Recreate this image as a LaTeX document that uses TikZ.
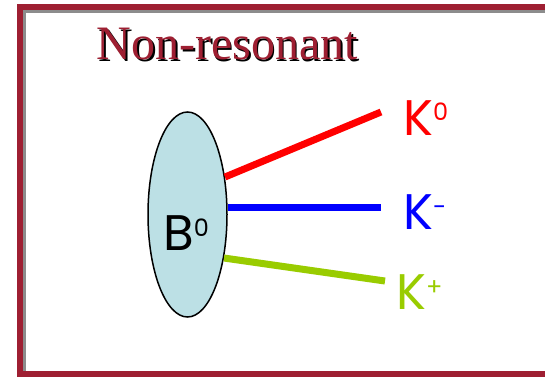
\documentclass[tikz,border=0pt]{standalone}
\usepackage{fontspec}
\setmainfont{Liberation Serif}
\newfontfamily\comicfont{Poppins}
\usetikzlibrary{shapes.geometric}
\definecolor{framered}{HTML}{9E1F32}
\definecolor{framegray}{HTML}{8C8C8C}
\definecolor{eggfill}{HTML}{BCE0E5}
\definecolor{kred}{HTML}{FF0000}
\definecolor{kblue}{HTML}{0000FF}
\definecolor{kgreen}{HTML}{99CC00}
\newcommand\upidx[1]{\raisebox{14pt}{\fontsize{24}{28}\selectfont #1}}
\tikzset{
  particle/.style={inner sep=0pt, anchor=base west, font=\comicfont\fontsize{50}{56}\selectfont},
  track/.style={line width=7pt, line cap=butt},
}
\begin{document}
\begin{tikzpicture}[x=1pt,y=-1pt]
\useasboundingbox (0,0) rectangle (545,377);
% frame
\fill[framered] (17,4) rectangle (545,10);
\fill[framered] (17,4) rectangle (23,377);
\fill[framered] (17,371) rectangle (545,377);
\fill[framegray] (23,10) rectangle (545,13);
\fill[framegray] (23,10) rectangle (26,371);
% title
\node[anchor=base, inner sep=0pt, font=\fontsize{48}{56}\selectfont, text=black] (titleshadow) at (229,61.5) {Non-resonant};
\node[anchor=base, inner sep=0pt, font=\fontsize{48}{56}\selectfont, text=framered] (title) at (227.5,60) {Non-resonant};
% B meson
\node[ellipse, draw=black, line width=1.5pt, fill=eggfill, minimum width=79pt, minimum height=205pt, inner sep=0pt] (B) at (187.5,214.5) {};
\node[particle, text=black] (Blabel) at (163,250) {B\upidx{0}};
% track ends
\coordinate (e0) at (381,112);
\coordinate (em) at (381,207);
\coordinate (ep) at (385,281);
\draw[track, kred] (B.45) -- (e0);
\draw[track, kblue] (B.10.75) -- (B.10.75 -| em);
\draw[track, kgreen] (B.-50) -- (ep);
% labels
\node[particle, text=kred] (K0) at (403,135) {K\upidx{0}};
\node[particle, text=kblue] (Km) at (403,229) {K\upidx{-}};
\node[particle, text=kgreen] (Kp) at (396,309) {K\upidx{+}};
\end{tikzpicture}
\end{document}
